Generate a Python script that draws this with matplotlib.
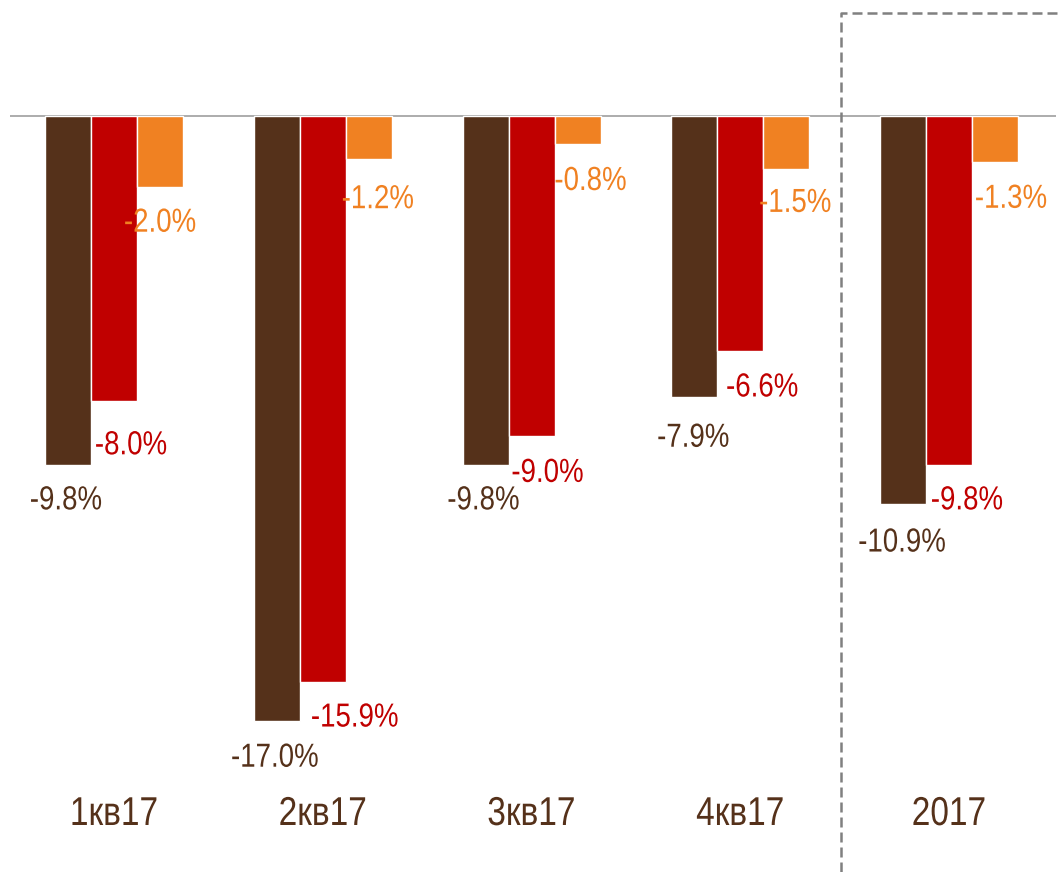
import matplotlib
matplotlib.use("Agg")
import matplotlib.pyplot as plt
from matplotlib.lines import Line2D
from matplotlib import patheffects
from matplotlib.transforms import Affine2D
import numpy as np

categories = ["1кв17", "2кв17", "3кв17", "4кв17", "2017"]
series_dark = [-9.8, -17.0, -9.8, -7.9, -10.9]
series_red = [-8.0, -15.9, -9.0, -6.6, -9.8]
series_orange = [-2.0, -1.2, -0.8, -1.5, -1.3]

C_DARK = "#55311A"
C_RED = "#C00000"
C_ORANGE = "#F08122"

# label offsets in pixels (dx right, dy down from bar end)
dark_dx = [-2, -2, -2, -1, -1]
dark_dy = [36, 37, 36, 41, 39]
red_dx = [17, 32, 16, 22, 18]
red_dy = [45, 36, 37, 37, 36]
orange_dx = [0, 9, 13, 9, 16]
orange_dy = [36, 41, 37, 34, 37]


class XCondense(patheffects.AbstractPathEffect):
    """Horizontally condense text around its own centre (narrow-font look)."""
    def __init__(self, sx=0.82):
        super().__init__()
        self.sx = sx

    def draw_path(self, renderer, gc, tpath, affine, rgbFace=None):
        ext = tpath.get_extents(affine)
        cx = 0.5 * (ext.x0 + ext.x1)
        t = affine + Affine2D().translate(-cx, 0).scale(self.sx, 1).translate(cx, 0)
        renderer.draw_path(gc, tpath, t, rgbFace)


W, H = 1058, 872
fig = plt.figure(figsize=(W / 100, H / 100), dpi=100)
ax = fig.add_axes([0, 0, 1, 1])

PX_PER_UNIT_X = 208.75
X0_PX = 114
PX_PER_PCT = 35.6
Y0_PX = 116

ax.set_xlim(-X0_PX / PX_PER_UNIT_X, (W - X0_PX) / PX_PER_UNIT_X)
ax.set_ylim(-(H - Y0_PX) / PX_PER_PCT, Y0_PX / PX_PER_PCT)
ax.axis("off")

def px2x(px):
    return (px - X0_PX) / PX_PER_UNIT_X

FONT = ["Liberation Sans Narrow", "Liberation Sans", "DejaVu Sans"]
PE = [XCondense(0.83)]

x = np.arange(len(categories))
step = 46 / PX_PER_UNIT_X
width = 46 / PX_PER_UNIT_X

ax.hlines(0, px2x(10), px2x(1056), color="#A6A6A6", lw=1.3, zorder=1)

for i, (vals, col, dxs, dys) in enumerate([
    (series_dark, C_DARK, dark_dx, dark_dy),
    (series_red, C_RED, red_dx, red_dy),
    (series_orange, C_ORANGE, orange_dx, orange_dy),
]):
    xs = x + (i - 1) * step
    ax.bar(xs, vals, width=width, color=col, edgecolor="white", linewidth=1.0, zorder=2)
    for xi, v, dx, dy in zip(xs, vals, dxs, dys):
        ax.text(xi + dx / PX_PER_UNIT_X, v - dy / PX_PER_PCT, f"{v:.1f}%",
                ha="center", va="center", color=col, fontsize=24, family=FONT,
                zorder=3, path_effects=PE)

cat_y = -(814 - Y0_PX) / PX_PER_PCT
for xi, c in zip(x, categories):
    ax.text(xi, cat_y, c, ha="center", va="center", color=C_DARK, fontsize=29,
            family=FONT, path_effects=PE)

# dashed frame around 2017
fx = 841 / W
fy = (H - 13) / H
fig.add_artist(Line2D([fx, fx, 1.0], [0.0, fy, fy], transform=fig.transFigure,
                      color="#808080", lw=1.8, linestyle=(0, (4, 2))))

fig.savefig("out.png", dpi=100)
